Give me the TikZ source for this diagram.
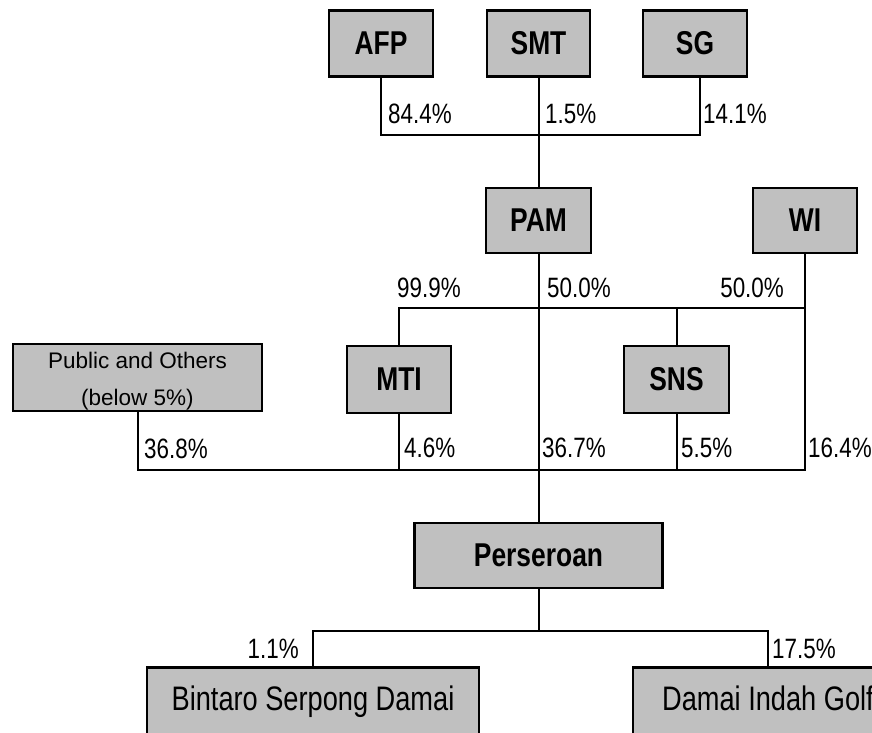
\documentclass[tikz,border=0pt]{standalone}
\usepackage{fontspec}
\setmainfont{Liberation Sans}[FakeStretch=0.8]
\newfontfamily\widesans{Liberation Sans}
\usetikzlibrary{positioning}
\definecolor{BoxGray}{HTML}{C0C0C0}

\begin{document}
\begin{tikzpicture}[x=1pt,y=-1pt,
  firm/.style={rectangle,draw=black,line width=2.6pt,fill=BoxGray,
               inner sep=0pt,outer sep=0pt,minimum width=104pt,
               minimum height=66pt,font=\fontsize{33}{38}\selectfont\bfseries},
  wide/.style={firm,font=\fontsize{34}{40}\selectfont,
               text height=24pt,text depth=7pt},
  pct/.style={inner sep=0pt,anchor=base west,
              font=\fontsize{28}{32}\selectfont},
  link/.style={line width=2pt}]
\useasboundingbox (0,0) rectangle (872,732);
\clip (0,0) rectangle (872,732);
% owners
\node[firm] (AFP) at (381,43.5) {AFP};
\node[firm,right=54pt of AFP,minimum width=103pt] (SMT) {SMT};
\node[firm,right=53pt of SMT] (SG) {SG};
\node[firm,below=111.5pt of SMT,minimum width=105pt,minimum height=65pt] (PAM) {PAM};
\node[firm,right=162pt of PAM,minimum height=65pt] (WI) {WI};
% holders of the company
\node[firm,minimum height=67pt] (MTI) at (399,379.5) {MTI};
\node[firm,right=173pt of MTI,minimum height=67pt,minimum width=105pt] (SNS) {SNS};
\node[firm,minimum width=249pt,minimum height=67pt,
      label={[align=center,yshift=-4pt,font=\widesans\fontsize{22.5}{37}\selectfont]
             center:Public and Others\\(below 5\%)}] (Pub) at (137.5,377.5) {};
\node[firm,below=270pt of PAM,minimum width=248pt,minimum height=65pt] (Pers) {Perseroan};
% subsidiaries
\node[wide,minimum width=332pt,minimum height=68pt] (BSD) at (313,701.5) {Bintaro Serpong Damai};
\node[wide,minimum width=270pt,minimum height=68pt] (DIG) at (768,701.5) {Damai Indah Golf};
% junctions
\coordinate (r1) at (538.5,135);
\coordinate (r2) at (538.5,308);
\coordinate (r3) at (538.5,470);
\coordinate (r4) at (538.5,631);
\draw[link] (AFP.south) |- (r1) -| ([xshift=5pt]SG.south);
\draw[link] (SMT) -- (PAM);
\draw[link] (PAM) -- (Pers);
\draw[link] (MTI.north) |- (r2) -| (WI.south);
\draw[link] (SNS) -- (SNS |- r2);
\draw[link] (Pub.south) |- (r3) -| (WI.south);
\draw[link] (MTI) -- (MTI |- r3);
\draw[link] (SNS) -- (SNS |- r3);
\draw[link] (Pers) -- (r4);
\draw[link] (BSD.north) |- (r4) -| (DIG.north);
% shares
\node[pct] (pAFP) at (388,123) {84.4\%};
\node[pct] (pSMT) at (545,123) {1.5\%};
\node[pct] (pSG) at (703,123) {14.1\%};
\node[pct] (pMTIup) at (397,297) {99.9\%};
\node[pct] (pPAM) at (547,297) {50.0\%};
\node[pct,anchor=base east] (pWIup) at (784,297) {50.0\%};
\node[pct] (pPub) at (144,458) {36.8\%};
\node[pct] (pMTI) at (404,457) {4.6\%};
\node[pct] (pPAMdn) at (542,457) {36.7\%};
\node[pct] (pSNS) at (681,457) {5.5\%};
\node[pct] (pWI) at (808,457) {16.4\%};
\node[pct,anchor=base east] (pBSD) at (299,658) {1.1\%};
\node[pct] (pDIG) at (772,658) {17.5\%};
\end{tikzpicture}
\end{document}
